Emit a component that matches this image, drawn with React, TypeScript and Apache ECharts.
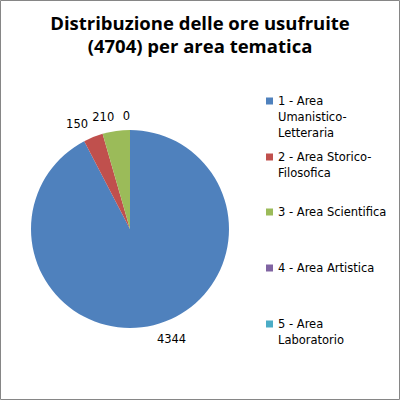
import React, { useEffect, useRef } from "react";
import * as echarts from "echarts";

const titleLines = ["Distribuzione delle ore usufruite", "(4704) per area tematica"];
const categories = [
  "1 - Area Umanistico-Letteraria",
  "2 - Area Storico-Filosofica",
  "3 - Area Scientifica",
  "4 - Area Artistica",
  "5 - Area Laboratorio",
];
const legendLines = [
  ["1 - Area", "Umanistico-", "Letteraria"],
  ["2 - Area Storico-", "Filosofica"],
  ["3 - Area Scientifica"],
  ["4 - Area Artistica"],
  ["5 - Area", "Laboratorio"],
];
const values = [4344, 150, 210, 0, 0];
const colors = ["#4F81BD", "#C0504D", "#9BBB59", "#8064A2", "#4BACC6"];

const FONT = "DejaVu Sans";
const LH = 16;
const legendFirstLineY = [101, 157, 212, 268, 324];

export default function App() {
  const ref = useRef<HTMLDivElement>(null);
  useEffect(() => {
    document.body.style.margin = "0";
    const chart = echarts.init(ref.current!, null, { renderer: "svg" });
    const legends = categories.map((name, i) => {
      const k = legendLines[i].length;
      const blank = new Array(k - 1).fill("");
      return {
        data: [name],
        orient: "vertical",
        left: 266,
        top: legendFirstLineY[i] - (2 * k - 1) * (LH / 2),
        padding: 0,
        itemWidth: 7,
        itemHeight: 7,
        icon: "rect",
        itemStyle: { borderWidth: 0 },
        formatter: () => blank.concat(legendLines[i]).join("\n"),
        textStyle: {
          fontFamily: FONT,
          fontSize: 11.5,
          color: "#000",
          lineHeight: LH,
        },
      };
    });
    chart.setOption({
      animation: false,
      color: colors,
      title: {
        text: titleLines.join("\n"),
        left: "center",
        top: 11,
        padding: 0,
        textStyle: {
          fontFamily: "Open Sans",
          fontWeight: "bold",
          fontSize: 18.5,
          lineHeight: 23,
          color: "#000",
        },
      },
      legend: legends,
      graphic: [
        {
          type: "rect",
          shape: { x: 0.5, y: 0.5, width: 399, height: 399 },
          style: { fill: "none", stroke: "#868686", lineWidth: 1 },
          silent: true,
        },
      ],
      series: [
        {
          type: "pie",
          center: [130, 229],
          radius: 99,
          startAngle: 90,
          clockwise: true,
          avoidLabelOverlap: false,
          itemStyle: { borderWidth: 0 },
          label: {
            show: true,
            position: "outside",
            fontFamily: FONT,
            fontSize: 11.5,
            color: "#000",
            formatter: "{c}",
            distanceToLabelLine: 0,
          },
          labelLine: { show: false, length: 14, length2: 0 },
          emphasis: { disabled: true },
          data: categories.map((name, i) => ({ name, value: values[i] })),
        },
      ],
    });
    return () => chart.dispose();
  }, []);
  return <div ref={ref} style={{ width: 400, height: 400 }} />;
}
